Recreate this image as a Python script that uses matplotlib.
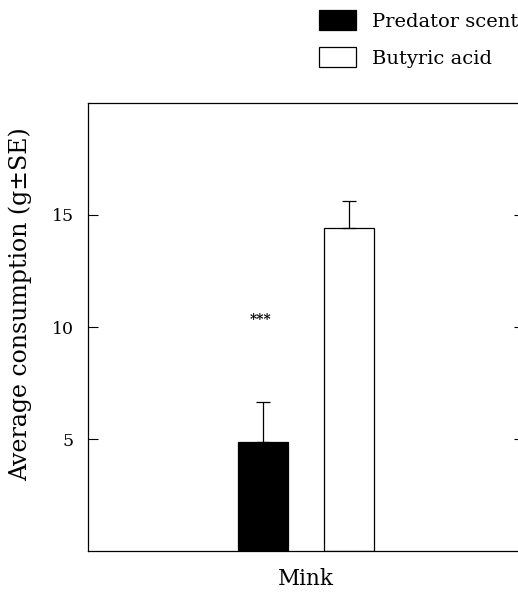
import matplotlib
matplotlib.use('Agg')
import matplotlib.pyplot as plt
from matplotlib.patches import Patch

# data
groups = ['Predator scent', 'Butyric acid']
means = [4.87, 14.43]
errors = [1.78, 1.21]
colors = ['black', 'white']
positions = [0, 1]
species = 'Mink'
y_ticks = [5, 10, 15]

plt.rcParams['font.family'] = ['DejaVu Serif']

fig = plt.figure(figsize=(5.18, 5.94), dpi=100)
ax = fig.add_axes([88/518, 43/594, 436/518, 448/594])

ax.bar(positions, means, width=0.58, color=colors, edgecolor='black', linewidth=0.9)
for x, m, e in zip(positions, means, errors):
    ax.errorbar(x, m, yerr=[[0], [e]], fmt='none', ecolor='black',
                elinewidth=0.9, capsize=5, capthick=0.9)

ax.text(-0.03, 10.3, '***', ha='center', va='center', fontsize=10, fontweight='bold')

ax.set_xlim(-2.035, 3.035)
ax.set_ylim(0, 20)
ax.set_yticks(y_ticks)
ax.set_xticks([])
ax.tick_params(axis='y', direction='in', length=7, width=0.8, right=True,
               labelsize=12.5, pad=10)
ax.spines['right'].set_visible(False)
for s in ['left', 'top', 'bottom']:
    ax.spines[s].set_linewidth(0.9)

ax.set_xlabel(species, fontsize=15.5, labelpad=12)
ax.set_ylabel('Average consumption (g±SE)', fontsize=17)
ax.yaxis.set_label_coords(-0.128, 0.55)

handles = [Patch(facecolor=c, edgecolor='black', linewidth=0.9) for c in colors]
fig.legend(handles, groups, loc='upper right', bbox_to_anchor=(1.0, 1 - 10/594),
           frameon=False, fontsize=14, handlelength=1.9, handleheight=1.2,
           labelspacing=0.85, handletextpad=0.8, borderpad=0, borderaxespad=0)

fig.savefig('out.png', dpi=100)
